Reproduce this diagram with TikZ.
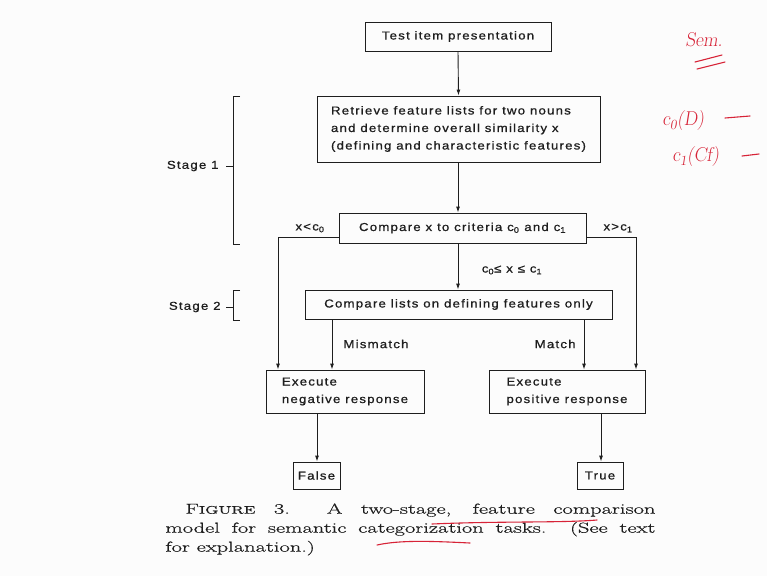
\documentclass[tikz,border=0pt]{standalone}
\usepackage{fontspec}
\usetikzlibrary{arrows.meta}
\newfontfamily\lettering[LetterSpace=10.5,FakeStretch=1.15,FakeBold=0.8]{Liberation Sans}
\newfontfamily\capfont[FakeStretch=1.55,FakeBold=0.6]{Latin Modern Roman}
\newfontfamily\penfont[FakeStretch=0.95]{Latin Modern Roman Slanted}
\definecolor{paper}{RGB}{252,252,252}
\definecolor{ink}{RGB}{30,30,30}
\definecolor{pen}{RGB}{215,35,55}
\begin{document}
\begin{tikzpicture}[x=1pt,y=-1pt, color=ink, line width=0.9pt,
  box/.style={draw=ink, line width=0.9pt, inner sep=0pt, align=left,
    text=ink, font=\lettering\fontsize{11.5}{17.5}\selectfont},
  lab/.style={inner sep=1pt, text=ink, font=\lettering\fontsize{11.5}{14}\selectfont},
  arr/.style={-{Latex[length=6pt,width=4pt]}},
  pentext/.style={text=pen, font=\penfont\fontsize{20}{22}\selectfont, inner sep=0pt},
  penline/.style={draw=pen, line width=1.1pt, line cap=round}]

\fill[paper] (0,0) rectangle (767,576);
\useasboundingbox (0,0) rectangle (767,576);

% flow boxes
\node[box, minimum width=186pt, minimum height=29pt] (test) at (458,36.5) {Test item presentation};
\node[box, minimum width=283pt, minimum height=66pt] (retr) at (458.5,129)
  {Retrieve feature lists for two nouns\\and determine overall similarity x\\(defining and characteristic features)};
\node[box, minimum width=247pt, minimum height=30pt] (crit) at (462.5,228)
  {Compare x to criteria c\textsubscript{0} and c\textsubscript{1}};
\node[box, minimum width=307pt, minimum height=29pt] (deff) at (458.5,304.5)
  {Compare lists on defining features only};
\node[box, minimum width=158pt, minimum height=43pt] (neg) at (345,391.5)
  {Execute\\negative response};
\node[box, minimum width=156pt, minimum height=43pt] (pos) at (567,391.5)
  {Execute\\positive response};
\node[box, minimum width=47pt, minimum height=27pt] (false) at (316.5,475.5) {False};
\node[box, minimum width=46pt, minimum height=27pt] (true) at (600,475.5) {True};

% connectors
\draw[arr] (test.south) -- (retr.north);
\coordinate (a2) at (458,0);
\draw[arr] (retr.south -| a2) -- (crit.north -| a2);
\draw[arr] (crit.south -| a2) -- (deff.north -| a2);

\coordinate (lc) at (278,237);
\coordinate (rc) at (636,237);
\draw[arr] (crit.west |- lc) -- (lc) -- (lc |- neg.north);
\draw[arr] (crit.east |- rc) -- (rc) -- (rc |- pos.north);

\coordinate (mmx) at (332,0);
\coordinate (mtx) at (584,0);
\draw[arr] (deff.south -| mmx) -- (neg.north -| mmx);
\draw[arr] (deff.south -| mtx) -- (pos.north -| mtx);

\coordinate (fx) at (317,0);
\coordinate (tx) at (601,0);
\draw[arr] (neg.south -| fx) -- (false.north -| fx);
\draw[arr] (pos.south -| tx) -- (true.north -| tx);

% branch labels
\node[lab] (lt) at (310,228) {x<c\textsubscript{0}};
\node[lab] (gt) at (618,228) {x>c\textsubscript{1}};
\node[lab] (mid) at (512,270) {c\textsubscript{0}≤ x ≤ c\textsubscript{1}};
\node[lab, anchor=west] (mm) at (342,344) {Mismatch};
\node[lab, anchor=east] (mt) at (577,344) {Match};

% stage brackets
\node[lab, anchor=east] (st1) at (220,166) {Stage 1};
\draw (240,96) -- (233,96) -- (233,244) -- (240,244);
\draw (226,166) -- (233,166);
\node[lab, anchor=east] (st2) at (222,307) {Stage 2};
\draw (240,290) -- (233,290) -- (233,320) -- (240,320);
\draw (226,307) -- (233,307);

% caption
\node[anchor=north west, text width=490pt, align=justify, inner sep=0pt, text=ink,
  font=\capfont\fontsize{14.5}{19}\selectfont] (cap) at (165,503)
  {\hspace*{20pt}F{\fontsize{11}{19}\selectfont IGURE} 3.\ \ A two-stage, feature comparison\linebreak
   model for semantic categorization tasks.\ \ (See text\linebreak
   for explanation.)};

% pen marks
\draw[penline] (432,524) .. controls (500,521) and (560,523) .. (597,520);
\draw[penline] (377,545) .. controls (400,540) and (430,541) .. (470,543);
\node[pentext] (sem) at (704,40) {Sem.};
\draw[penline] (695,62) -- (722,55);
\draw[penline] (697,69) -- (725,62);
\node[pentext, anchor=west] (cd) at (662,121) {c\textsubscript{0}(D)};
\draw[penline] (725,118) -- (750,116);
\node[pentext, anchor=west] (cf) at (672,157) {c\textsubscript{1}(Cf)};
\draw[penline] (742,156) -- (759,154);
\end{tikzpicture}
\end{document}
